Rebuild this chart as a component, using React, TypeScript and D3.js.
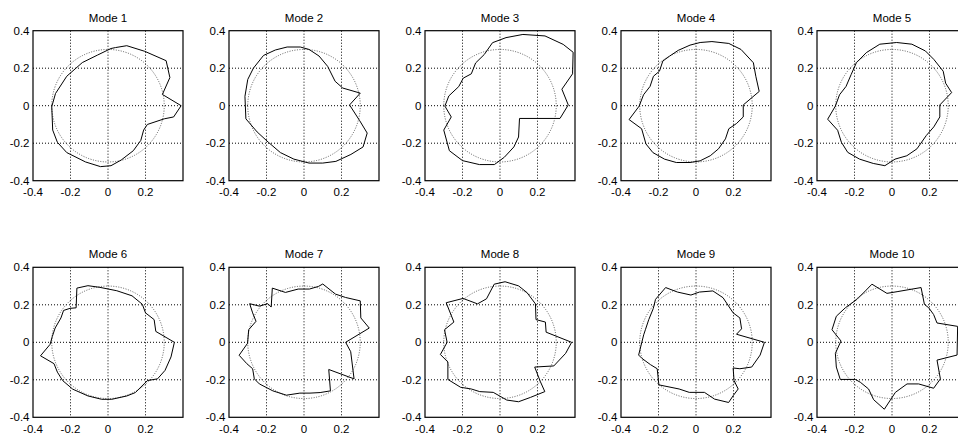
import React from 'react';
import * as d3 from 'd3';

// subplot titles and axis ticks
const modeTitles = ['Mode 1', 'Mode 2', 'Mode 3', 'Mode 4', 'Mode 5', 'Mode 6', 'Mode 7', 'Mode 8', 'Mode 9', 'Mode 10'];
const xTicks = [-0.4, -0.2, 0, 0.2];
const yTicks = [-0.4, -0.2, 0, 0.2, 0.4];
const gridValues = [-0.2, 0, 0.2];
const referenceRadius = 0.3;

// mode shape outlines, [x, y]
const mode1 = [
  [0.04, 0.31], [0.1, 0.32], [0.196, 0.29], [0.31, 0.24], [0.33, 0.15], [0.29, 0.06], [0.39, 0.0],
  [0.35, -0.06], [0.30, -0.07], [0.21, -0.10], [0.19, -0.13], [0.175, -0.185], [0.135, -0.24],
  [0.07, -0.29], [0.016, -0.32], [-0.04, -0.325], [-0.12, -0.30], [-0.22, -0.25], [-0.27, -0.195],
  [-0.295, -0.13], [-0.30, -0.005], [-0.28, 0.065], [-0.22, 0.157], [-0.137, 0.23], [-0.056, 0.27],
  [0.016, 0.305],
];
const mode2 = [
  [-0.02, 0.313], [-0.09, 0.313], [-0.153, 0.297], [-0.216, 0.268], [-0.27, 0.2], [-0.3, 0.14],
  [-0.315, 0.05], [-0.31, -0.07], [-0.25, -0.14], [-0.19, -0.195], [-0.126, -0.25], [-0.054, -0.285],
  [0.027, -0.306], [0.1, -0.306], [0.17, -0.297], [0.25, -0.26], [0.315, -0.22], [0.337, -0.146],
  [0.297, -0.08], [0.243, 0.004], [0.3, 0.067], [0.207, 0.094], [0.166, 0.13], [0.126, 0.21],
  [0.08, 0.265], [0.027, 0.3],
];
const mode3 = [
  [-0.04, 0.336], [0.032, 0.363], [0.122, 0.38], [0.24, 0.372], [0.337, 0.327], [0.39, 0.285],
  [0.387, 0.17], [0.33, 0.088], [0.364, 0.004], [0.32, -0.068], [0.104, -0.068], [0.099, -0.167],
  [0.074, -0.22], [0.023, -0.275], [-0.03, -0.314], [-0.11, -0.314], [-0.2, -0.293], [-0.27, -0.24],
  [-0.3, -0.13], [-0.26, -0.06], [-0.294, -0.002], [-0.273, 0.052], [-0.22, 0.102], [-0.196, 0.147],
  [-0.153, 0.17], [-0.13, 0.228], [-0.084, 0.273],
];
const mode4 = [
  [-0.032, 0.323], [0.022, 0.337], [0.085, 0.342], [0.175, 0.332], [0.24, 0.3], [0.306, 0.229],
  [0.319, 0.157], [0.337, 0.076], [0.252, 0.004], [0.252, -0.06], [0.216, -0.095], [0.175, -0.123],
  [0.157, -0.177], [0.12, -0.23], [0.076, -0.267], [0.022, -0.294], [-0.032, -0.303], [-0.105, -0.303],
  [-0.168, -0.285], [-0.23, -0.25], [-0.267, -0.204], [-0.29, -0.123], [-0.357, -0.074], [-0.303, -0.002],
  [-0.28, 0.058], [-0.245, 0.103], [-0.227, 0.157], [-0.195, 0.184], [-0.177, 0.238], [-0.14, 0.265],
  [-0.095, 0.295],
];
const mode5 = [
  [-0.065, 0.328], [0.025, 0.337], [0.106, 0.328], [0.178, 0.292], [0.223, 0.247], [0.273, 0.184],
  [0.286, 0.12], [0.318, 0.07], [0.255, 0.004], [0.255, -0.06], [0.223, -0.113], [0.183, -0.159],
  [0.133, -0.23], [0.079, -0.267], [0.016, -0.285], [-0.038, -0.32], [-0.1, -0.308], [-0.173, -0.285],
  [-0.236, -0.249], [-0.27, -0.195], [-0.29, -0.131], [-0.343, -0.072], [-0.302, -0.002], [-0.28, 0.058],
  [-0.245, 0.103], [-0.218, 0.166], [-0.19, 0.229], [-0.137, 0.283],
];
const mode6 = [
  [-0.107, 0.302], [-0.043, 0.293], [0.047, 0.275], [0.128, 0.248], [0.183, 0.203], [0.2, 0.157],
  [0.246, 0.121], [0.255, 0.058], [0.354, 0.0], [0.336, -0.078], [0.304, -0.15], [0.264, -0.195],
  [0.21, -0.204], [0.192, -0.222], [0.146, -0.268], [0.101, -0.286], [0.02, -0.304], [-0.034, -0.304],
  [-0.107, -0.286], [-0.188, -0.25], [-0.242, -0.204], [-0.27, -0.159], [-0.288, -0.114], [-0.36, -0.072],
  [-0.309, -0.011], [-0.297, 0.031], [-0.282, 0.076], [-0.251, 0.13], [-0.237, 0.17], [-0.203, 0.181],
  [-0.17, 0.184], [-0.166, 0.289],
];
const mode7 = [
  [-0.29, 0.206], [-0.238, 0.193], [-0.193, 0.206], [-0.175, 0.188], [-0.169, 0.289], [-0.099, 0.266],
  [-0.031, 0.284], [0.029, 0.284], [0.077, 0.298], [0.1, 0.311], [0.168, 0.257], [0.222, 0.239],
  [0.3, 0.221], [0.303, 0.13], [0.348, 0.076], [0.222, 0.0], [0.249, -0.05], [0.267, -0.195],
  [0.132, -0.145], [0.141, -0.259], [0.086, -0.268], [0.032, -0.271], [-0.022, -0.271], [-0.094, -0.282],
  [-0.166, -0.259], [-0.238, -0.222], [-0.265, -0.195], [-0.274, -0.141], [-0.305, -0.114], [-0.346, -0.069],
  [-0.301, -0.005], [-0.295, 0.067], [-0.256, 0.112], [-0.274, 0.157],
];
const mode8 = [
  [-0.287, 0.211], [-0.197, 0.234], [-0.12, 0.205], [-0.072, 0.232], [-0.031, 0.31], [0.027, 0.323],
  [0.099, 0.301], [0.144, 0.265], [0.189, 0.205], [0.192, 0.121], [0.242, 0.108], [0.246, 0.054],
  [0.382, 0.0], [0.35, -0.059], [0.287, -0.126], [0.185, -0.132], [0.215, -0.209], [0.239, -0.263],
  [0.162, -0.294], [0.099, -0.317], [0.036, -0.308], [-0.036, -0.267], [-0.108, -0.263], [-0.153, -0.249],
  [-0.21, -0.24], [-0.278, -0.198], [-0.278, -0.105], [-0.318, -0.065], [-0.282, 0.0], [-0.296, 0.067],
  [-0.246, 0.108],
];
const mode9 = [
  [-0.216, 0.229], [-0.162, 0.292], [-0.099, 0.268], [-0.027, 0.252], [0.018, 0.268], [0.09, 0.274],
  [0.144, 0.238], [0.198, 0.157], [0.234, 0.13], [0.243, 0.072], [0.216, 0.043], [0.365, 0.0],
  [0.342, -0.068], [0.297, -0.132], [0.234, -0.141], [0.198, -0.137], [0.203, -0.204], [0.225, -0.249],
  [0.198, -0.285], [0.174, -0.321], [0.099, -0.303], [0.045, -0.267], [-0.036, -0.267], [-0.09, -0.249],
  [-0.198, -0.227], [-0.207, -0.141], [-0.243, -0.119], [-0.288, -0.086], [-0.306, -0.068], [-0.279, 0.04],
  [-0.27, 0.067], [-0.252, 0.121], [-0.228, 0.18],
];
const mode10 = [
  [-0.107, 0.31], [-0.027, 0.261], [0.027, 0.27], [0.155, 0.292], [0.173, 0.202], [0.196, 0.184],
  [0.222, 0.148], [0.24, 0.103], [0.35, 0.085], [0.347, -0.068], [0.24, -0.095], [0.258, -0.195],
  [0.222, -0.245], [0.142, -0.222], [0.08, -0.222], [0.018, -0.267], [-0.041, -0.357], [-0.098, -0.306],
  [-0.125, -0.249], [-0.169, -0.213], [-0.196, -0.198], [-0.276, -0.198], [-0.297, -0.132], [-0.302, -0.059],
  [-0.272, 0.007], [-0.32, 0.067], [-0.297, 0.139], [-0.249, 0.184], [-0.187, 0.229], [-0.142, 0.274],
];
const modeOutlines = [mode1, mode2, mode3, mode4, mode5, mode6, mode7, mode8, mode9, mode10];

const width = 958;
const height = 439;
const panelSize = 150;
const panelLefts = [33, 229, 425, 621, 817];
const panelTops = [30.7, 267.3];
const font = 'Liberation Sans, Arial, Helvetica, sans-serif';
const fontSize = 11.5;

const fmt = (v: number) => (v === 0 ? '0' : String(v));

function Panel({ title, outline, left, top }: { title: string; outline: number[][]; left: number; top: number }) {
  const x = d3.scaleLinear().domain([-0.4, 0.4]).range([0, panelSize]);
  const y = d3.scaleLinear().domain([-0.4, 0.4]).range([panelSize, 0]);
  const line = d3.line<number[]>()
    .x(d => x(d[0]))
    .y(d => y(d[1]))
    .curve(d3.curveLinearClosed);

  return (
    <g transform={`translate(${left},${top})`}>
      <rect x={0} y={0} width={panelSize} height={panelSize} fill="#fff" />
      {gridValues.map(v => (
        <g key={v}>
          <line x1={x(v)} x2={x(v)} y1={0} y2={panelSize} stroke="#000" strokeWidth={1} strokeDasharray="1,2" />
          <line x1={0} x2={panelSize} y1={y(v)} y2={y(v)} stroke="#000" strokeWidth={1} strokeDasharray="1,2" />
        </g>
      ))}
      <circle cx={x(0)} cy={y(0)} r={x(referenceRadius) - x(0)} fill="none" stroke="#333" strokeWidth={0.8} strokeDasharray="1,1.5" />
      <path d={line(outline) || ''} fill="none" stroke="#000" strokeWidth={1} />
      <rect x={0} y={0} width={panelSize} height={panelSize} fill="none" stroke="#000" strokeWidth={1.2} />
      <text x={panelSize / 2} y={-9} textAnchor="middle" fontSize={fontSize} fontFamily={font}>{title}</text>
      {xTicks.map(v => (
        <text key={v} x={x(v)} y={panelSize + 15.5} textAnchor="middle" fontSize={fontSize} fontFamily={font}>{fmt(v)}</text>
      ))}
      {yTicks.map(v => (
        <text key={v} x={-3.5} y={y(v)} dy="0.35em" textAnchor="end" fontSize={fontSize} fontFamily={font}>{fmt(v)}</text>
      ))}
    </g>
  );
}

export default function App() {
  return (
    <svg width={width} height={height} style={{ position: 'absolute', left: 0, top: 0, background: '#fff' }}>
      {modeOutlines.map((outline, i) => (
        <Panel
          key={modeTitles[i]}
          title={modeTitles[i]}
          outline={outline}
          left={panelLefts[i % 5]}
          top={panelTops[Math.floor(i / 5)]}
        />
      ))}
    </svg>
  );
}
